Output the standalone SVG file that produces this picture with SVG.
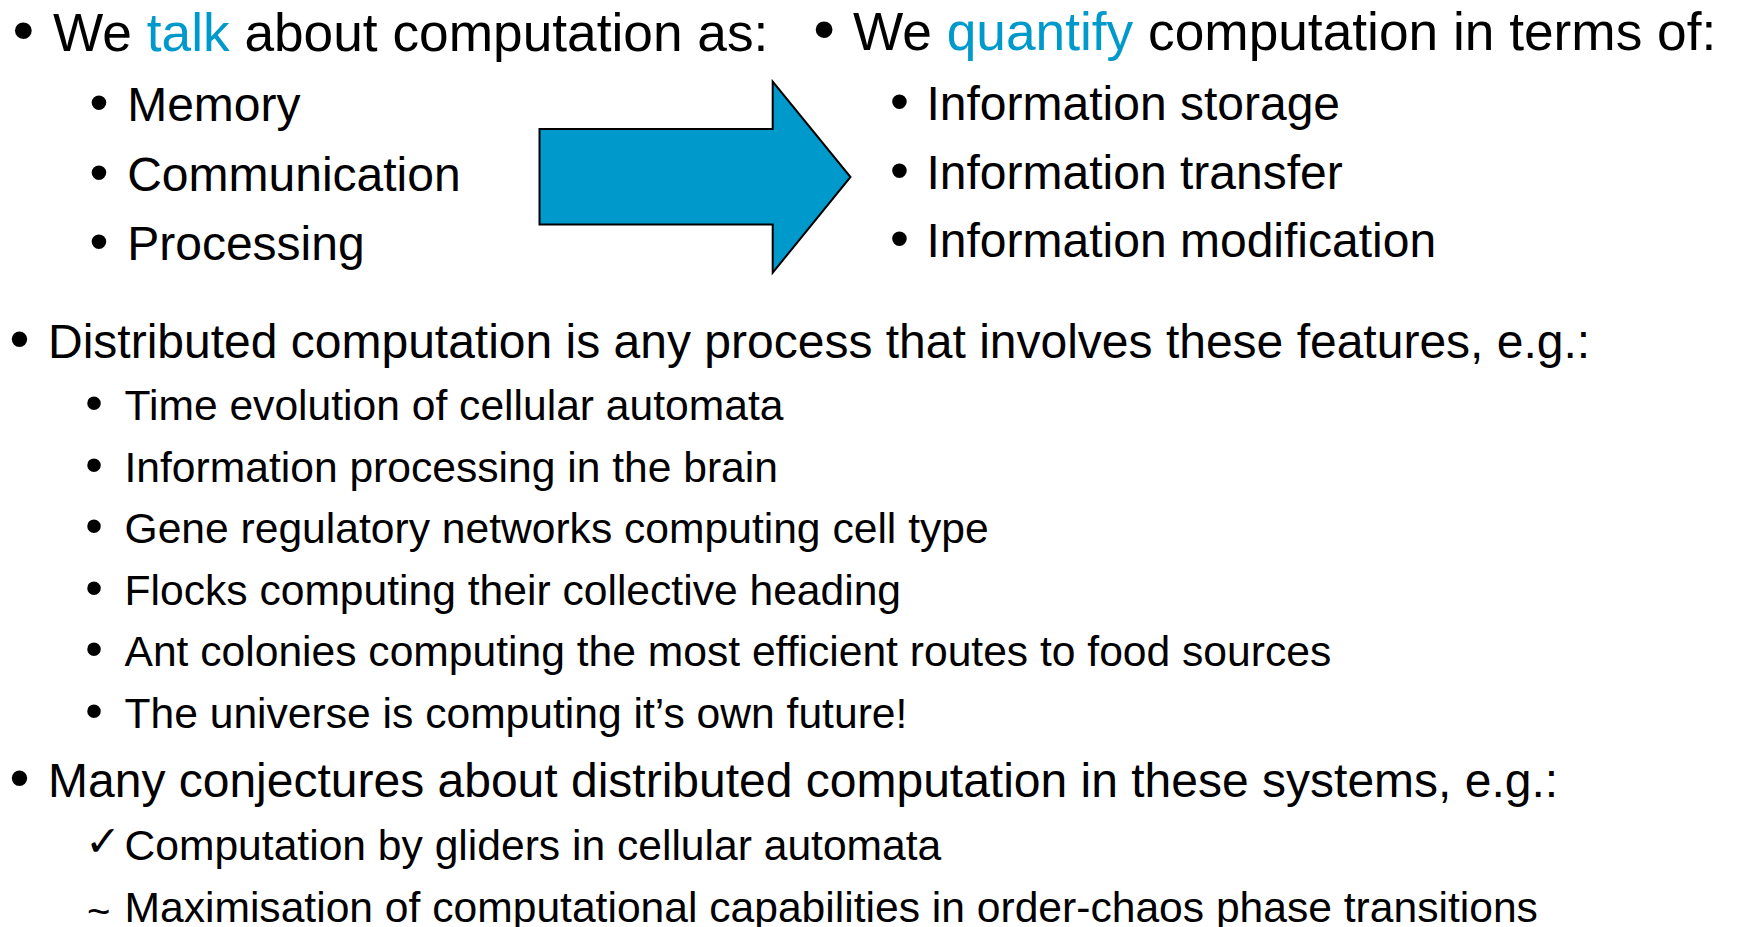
<svg xmlns="http://www.w3.org/2000/svg" width="1737" height="927" viewBox="0 0 1737 927">
<style>
text{font-family:"Liberation Sans",Arial,sans-serif;fill:#000}
.h1{font-size:53.25px}
.s1{font-size:48px}
.h2{font-size:48px}
.s2{font-size:42.6px}
.b{text-anchor:middle}
.bh1{font-size:62px}
.bs1{font-size:54px}
.bh2{font-size:57px}
.bs2{font-size:50px}
.hl{fill:#0099CC}
.chk{font-family:"DejaVu Sans",sans-serif;font-size:43px}
.arrow{fill:#0099CC;stroke:#000;stroke-width:2;stroke-linejoin:miter}
</style>
<rect width="1737" height="927" fill="#fff"/>
<g id="talk">
<text class="b bh1" x="23.3" y="50.5">•</text>
<text class="h1" x="53" y="50.5">We <tspan class="hl">talk</tspan> about computation as:</text>
<text class="b bs1" x="99" y="121">•</text>
<text class="s1" x="127.2" y="121">Memory</text>
<text class="b bs1" x="99" y="190.5">•</text>
<text class="s1" x="127.2" y="190.5">Communication</text>
<text class="b bs1" x="99" y="259.5">•</text>
<text class="s1" x="127.2" y="259.5">Processing</text>
</g>
<g id="connectors">
<polygon class="arrow" points="539.5,129 772.7,129 772.7,81.5 850.5,177 772.7,272.7 772.7,224.5 539.5,224.5"/>
</g>
<g id="quantify">
<text class="b bh1" x="824" y="50">•</text>
<text class="h1" x="853" y="50">We <tspan class="hl">quantify</tspan> computation in terms of:</text>
<text class="b bs1" x="899.5" y="119.5">•</text>
<text class="s1" x="926.5" y="119.5">Information storage</text>
<text class="b bs1" x="899.5" y="188.5">•</text>
<text class="s1" x="926.5" y="188.5">Information transfer</text>
<text class="b bs1" x="899.5" y="257">•</text>
<text class="s1" x="926.5" y="257">Information modification</text>
</g>
<g id="distributed">
<text class="b bh2" x="19.5" y="358">•</text>
<text class="h2" x="48" y="358">Distributed computation is any process that involves these features, e.g.:</text>
<text class="b bs2" x="94" y="420">•</text>
<text class="s2" x="124.5" y="420">Time evolution of cellular automata</text>
<text class="b bs2" x="94" y="481.6">•</text>
<text class="s2" x="124.5" y="481.6">Information processing in the brain</text>
<text class="b bs2" x="94" y="543.2">•</text>
<text class="s2" x="124.5" y="543.2">Gene regulatory networks computing cell type</text>
<text class="b bs2" x="94" y="604.8">•</text>
<text class="s2" x="124.5" y="604.8">Flocks computing their collective heading</text>
<text class="b bs2" x="94" y="666.4">•</text>
<text class="s2" x="124.5" y="666.4">Ant colonies computing the most efficient routes to food sources</text>
<text class="b bs2" x="94" y="728">•</text>
<text class="s2" x="124.5" y="728">The universe is computing it’s own future!</text>
</g>
<g id="conjectures">
<text class="b bh2" x="19.5" y="797">•</text>
<text class="h2" x="48" y="797">Many conjectures about distributed computation in these systems, e.g.:</text>
<text class="chk" x="85" y="856">✓</text>
<text class="s2" x="124.5" y="859.5">Computation by gliders in cellular automata</text>
<text style="font-size:40px" x="87" y="925">~</text>
<text class="s2" x="124.5" y="922">Maximisation of computational capabilities in order-chaos phase transitions</text>
</g>
</svg>
